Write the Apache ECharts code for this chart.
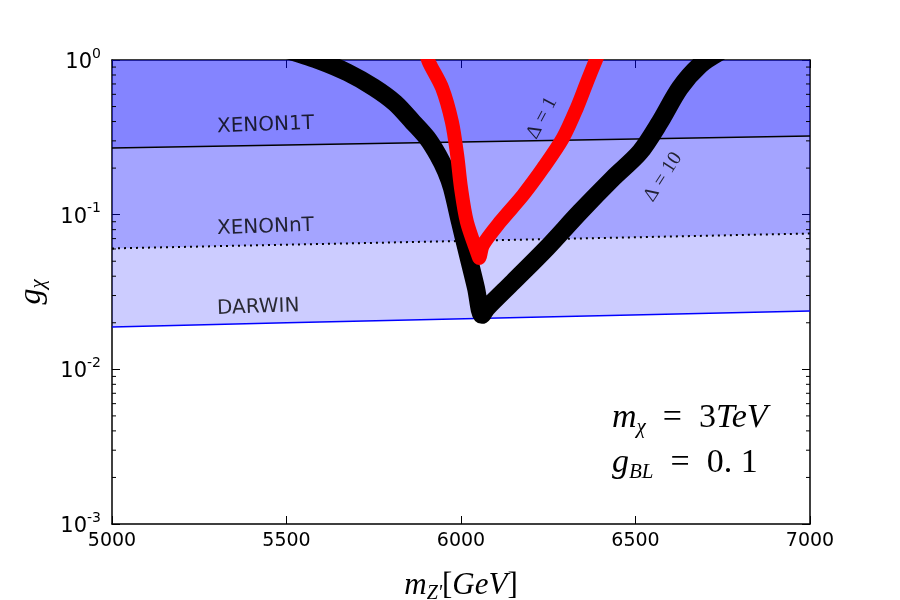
<!DOCTYPE html>
<html>
<head>
<meta charset="utf-8">
<script src="https://cdn.jsdelivr.net/npm/echarts@6/dist/echarts.min.js"></script>
<style>html,body{margin:0;padding:0;background:#fff}#c{width:900px;height:600px}</style>
</head>
<body>
<div id="c"></div>
<script>
// ---- data ----
const xTicks = [5000, 5500, 6000, 6500, 7000];
const yTickExponents = [-3, -2, -1, 0];
const xenon1T = [[5000, 0.27], [7000, 0.322]];
const xenonNT = [[5000, 0.0605], [7000, 0.0755]];
const darwin = [[5000, 0.0188], [5500, 0.0200], [7000, 0.0238]];
const delta10 = [
  [5492, 1.18], [5590, 1.0], [5675, 0.83], [5750, 0.665], [5811, 0.527], [5862, 0.397],
  [5903, 0.313], [5934, 0.243], [5957, 0.191], [5974, 0.149],
  [5997, 0.0897], [6020, 0.0548], [6043, 0.0336], [6060, 0.0225],
  [6074, 0.0249], [6149, 0.0367], [6246, 0.0609], [6341, 0.104], [6436, 0.1726],
  [6513, 0.254], [6570, 0.397], [6627, 0.659], [6685, 0.928], [6742, 1.13]
];
const delta1 = [
  [5897, 1.16], [5908, 0.97], [5946, 0.659], [5974, 0.397], [5989, 0.243], [6000, 0.149],
  [6017, 0.0897], [6049, 0.0548], [6052, 0.0525],
  [6063, 0.0637], [6112, 0.0897], [6178, 0.134], [6235, 0.200], [6292, 0.313],
  [6332, 0.490], [6361, 0.721], [6384, 0.97], [6398, 1.16]
];
const bandLabels = [
  { name: 'XENON1T', pos: [5301, 0.369], rot: 2 },
  { name: 'XENONnT', pos: [5301, 0.0809], rot: 2 },
  { name: 'DARWIN', pos: [5301, 0.0246], rot: 2 }
];
const curveLabels = [
  { name: '\u0394 = 1', pos: [6232, 0.422], rot: 62 },
  { name: '\u0394 = 10', pos: [6579, 0.175], rot: 57 }
];
const minorTickValues = [];
for (let e = -3; e < 0; e++) for (let k = 2; k <= 9; k++) minorTickValues.push(k * Math.pow(10, e));

const fillColor = 'rgba(0,0,255,0.2)';
const serif = '"Liberation Serif", "DejaVu Serif", serif';
const sans = '"DejaVu Sans", sans-serif';

const chart = echarts.init(document.getElementById('c'), null, { renderer: 'canvas' });

function bandSeries(data, lineStyle, z) {
  return {
    type: 'line', data: data, symbol: 'none', z: z,
    lineStyle: lineStyle,
    areaStyle: { origin: 'end', color: fillColor, opacity: 1 },
    silent: true, animation: false
  };
}

const option = {
  animation: false,
  grid: { left: 112, right: 90, top: 60, bottom: 76, outerBoundsMode: 'none', containLabel: false },
  xAxis: [{
    type: 'value', min: xTicks[0], max: xTicks[xTicks.length - 1], interval: 500,
    axisLine: { lineStyle: { color: '#000', width: 1.5 } },
    axisTick: { inside: true, length: 8, lineStyle: { color: '#000', width: 1 } },
    axisLabel: { color: '#000', fontSize: 19, fontFamily: sans, margin: 8, formatter: v => String(v) },
    splitLine: { show: false },
    name: "{i|m}{sub|Z'}{r|[}{i|GeV}{r|]}",
    nameLocation: 'middle', nameGap: 44,
    nameTextStyle: {
      rich: {
        i: { fontFamily: serif, fontStyle: 'italic', fontSize: 31, color: '#000' },
        r: { fontFamily: serif, fontSize: 31, color: '#000' },
        sub: { fontFamily: serif, fontStyle: 'italic', fontSize: 20, color: '#000', padding: [16, 0, 0, 0] }
      }
    }
  }, {
    type: 'value', position: 'top', min: xTicks[0], max: xTicks[xTicks.length - 1], interval: 500,
    axisLine: { lineStyle: { color: '#000', width: 1.5 } },
    axisTick: { inside: true, length: 8, lineStyle: { color: '#000', width: 1 } },
    axisLabel: { show: false }, splitLine: { show: false }
  }],
  yAxis: [{
    type: 'log', logBase: 10, min: Math.pow(10, yTickExponents[0]), max: Math.pow(10, yTickExponents[yTickExponents.length - 1]),
    axisLine: { lineStyle: { color: '#000', width: 1.5 } },
    axisTick: { inside: true, length: 8, lineStyle: { color: '#000', width: 1 } },
    splitLine: { show: false },
    axisLabel: {
      margin: 11,
      formatter: function (v) {
        const e = Math.round(Math.log10(v));
        return '{b|10}{s|' + e + '}';
      },
      rich: {
        b: { fontSize: 21, fontFamily: sans, color: '#000', lineHeight: 26, verticalAlign: 'bottom' },
        s: { fontSize: 14, fontFamily: sans, color: '#000', lineHeight: 26, verticalAlign: 'top' }
      }
    },
    name: '{i|g}{sub|\u03c7}',
    nameLocation: 'middle', nameGap: 63, nameRotate: 90,
    nameTextStyle: {
      rich: {
        i: { fontFamily: serif, fontStyle: 'italic', fontSize: 32, color: '#000' },
        sub: { fontFamily: serif, fontStyle: 'italic', fontSize: 21, color: '#000', padding: [14, 0, 0, 0] }
      }
    }
  }, {
    type: 'log', logBase: 10, position: 'right', min: Math.pow(10, yTickExponents[0]), max: Math.pow(10, yTickExponents[yTickExponents.length - 1]),
    axisLine: { lineStyle: { color: '#000', width: 1.5 } },
    axisTick: { inside: true, length: 8, lineStyle: { color: '#000', width: 1 } },
    axisLabel: { show: false }, splitLine: { show: false }
  }],
  series: [
    bandSeries(darwin, { color: '#0000ff', width: 1.5 }, 2),
    bandSeries(xenonNT, { color: '#000', width: 2, type: [2, 4] }, 3),
    bandSeries(xenon1T, { color: '#000', width: 1.5 }, 4),
    {
      type: 'custom', z: 5, silent: true,
      data: minorTickValues.map(v => [v]),
      renderItem: function (params, api) {
        const v = api.value(0);
        const l = api.coord([xTicks[0], v]);
        const r = api.coord([xTicks[xTicks.length - 1], v]);
        return {
          type: 'group', children: [
            { type: 'line', shape: { x1: l[0], y1: l[1], x2: l[0] + 4, y2: l[1] }, style: { stroke: '#000', lineWidth: 1 } },
            { type: 'line', shape: { x1: r[0], y1: r[1], x2: r[0] - 4, y2: r[1] }, style: { stroke: '#000', lineWidth: 1 } }
          ]
        };
      },
      encode: { y: 0 }
    },
    {
      type: 'line', data: delta10, symbol: 'none', z: 6, smooth: 0.3,
      lineStyle: { color: '#000', width: 18, cap: 'round', join: 'round' }
    },
    {
      type: 'line', data: delta1, symbol: 'none', z: 7, smooth: 0.3,
      lineStyle: { color: '#ff0000', width: 14, cap: 'round', join: 'round' }
    },
    {
      type: 'scatter', symbolSize: 0, z: 8, silent: true,
      data: bandLabels.map(d => ({
        value: d.pos,
        label: { show: true, formatter: d.name, rotate: d.rot, position: 'right', distance: 0,
          fontFamily: sans, fontSize: 20, color: '#000' }
      }))
    },
    {
      type: 'scatter', symbolSize: 0, z: 8, silent: true,
      data: curveLabels.map(d => ({
        value: d.pos,
        label: { show: true, formatter: d.name, rotate: d.rot, position: 'inside',
          fontFamily: serif, fontSize: 20, color: '#000' }
      }))
    }
  ],
  graphic: [
    {
      // white mask above the plot frame so thick curves stop at the top axis
      type: 'rect', z: 100, silent: true,
      shape: { x: 112, y: 0, width: 700, height: 59 },
      style: { fill: '#fff' }
    },
    {
      type: 'text', left: 612, top: 401,
      style: {
        text: '{i|m}{sub|\u03c7}{r|  =  3}{i|TeV}',
        rich: {
          i: { fontFamily: serif, fontStyle: 'italic', fontSize: 34, fill: '#000' },
          r: { fontFamily: serif, fontSize: 34, fill: '#000' },
          sub: { fontFamily: serif, fontStyle: 'italic', fontSize: 21, fill: '#000', padding: [18, 0, 0, 0] }
        }
      }
    },
    {
      type: 'text', left: 612, top: 446,
      style: {
        text: '{i|g}{sub|BL}{r|  =  0. 1}',
        rich: {
          i: { fontFamily: serif, fontStyle: 'italic', fontSize: 34, fill: '#000' },
          r: { fontFamily: serif, fontSize: 34, fill: '#000' },
          sub: { fontFamily: serif, fontStyle: 'italic', fontSize: 21, fill: '#000', padding: [18, 0, 0, 0] }
        }
      }
    }
  ]
};
chart.setOption(option);
</script>
</body>
</html>
